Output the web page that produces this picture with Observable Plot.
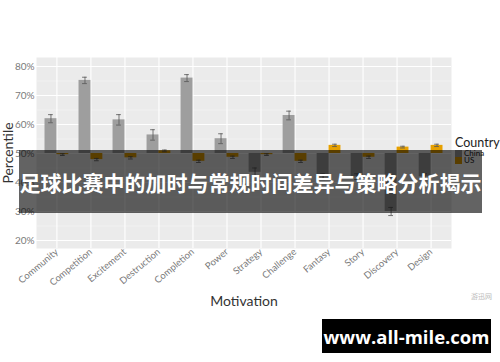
<!DOCTYPE html>
<html>
<head>
<meta charset="utf-8">
<script src="https://cdn.jsdelivr.net/npm/d3@7"></script>
<script src="https://cdn.jsdelivr.net/npm/@observablehq/plot@0.6"></script>
<style>
  html, body { margin: 0; padding: 0; background: #fff; }
  #wrap { position: relative; width: 500px; height: 362px; overflow: hidden; font-family: Lato, sans-serif; }
  #legend { position: absolute; left: 455px; top: 136px; color: #222; }
  #legend .title { font-size: 12.5px; line-height: 14px; }
  #legend .item { font-size: 8px; line-height: 7px; display: flex; align-items: center; }
  #legend .sw { width: 7px; height: 7px; margin-right: 2px; }
  #banner { position: absolute; left: 19px; top: 150px; width: 463px; height: 63px; background: rgba(0,0,0,0.61);
            color: #fff; font-family: "Noto Sans CJK SC", sans-serif; font-weight: 700; font-size: 21px;
            display: flex; align-items: center; justify-content: center; white-space: nowrap; letter-spacing: 0; }
  #site { position: absolute; left: 322px; top: 319px; width: 169px; height: 34px; background: #000; color: #fff;
          font-family: "Open Sans", sans-serif; font-weight: 700; font-size: 18.5px; display: flex; align-items: center; justify-content: center; }
  #mark { position: absolute; left: 471px; top: 291px; font-size: 7px; color: #bbb; font-family: "Noto Sans CJK SC", sans-serif; }
</style>
</head>
<body>
<div id="wrap"></div>
<script>
const categories = ["Community","Competition","Excitement","Destruction","Completion","Power","Strategy","Challenge","Fantasy","Story","Discovery","Design"];
const chinaValues = [62, 75.2, 61.6, 56.4, 76, 55.1, 43.5, 63.1, 42, 42, 30, 42];
const chinaErrors = [1.4, 1.1, 1.8, 1.8, 1.2, 1.7, 1.5, 1.5, 1.0, 1.0, 1.4, 1.0];
const usValues = [49.6, 47.9, 48.5, 50.9, 47.3, 48.7, 49.6, 47.3, 52.8, 48.7, 52.2, 52.8];
const usErrors = [0.3, 0.4, 0.4, 0.3, 0.4, 0.4, 0.3, 0.4, 0.4, 0.4, 0.3, 0.4];
const countries = ["China", "US"];
const countryColors = ["#9e9e9e", "#e6a000"];
const yMajor = [20, 30, 40, 50, 60, 70, 80];
const yMinor = [25, 35, 45, 55, 65, 75];
const baseline = 50;

const idx = categories.map((d, i) => i);
const rows = [];
categories.forEach((c, i) => {
  rows.push({i, country: "China", v: chinaValues[i], e: chinaErrors[i], off: -0.35});
  rows.push({i, country: "US", v: usValues[i], e: usErrors[i], off: 0});
});
const bw = 0.35;

const chart = Plot.plot({
  width: 500,
  height: 362,
  marginLeft: 36,
  marginRight: 49,
  marginTop: 57,
  marginBottom: 114,
  style: {fontFamily: "Lato, sans-serif", background: "transparent"},
  x: {domain: [-0.6, 11.6], axis: null},
  y: {domain: [17.24, 83.1], axis: null},
  color: {domain: countries, range: countryColors},
  marks: [
    Plot.frame({fill: "#ebebeb", stroke: null}),
    Plot.ruleY(yMinor, {stroke: "#f7f7f7", strokeWidth: 0.6}),
    Plot.ruleY(yMajor, {stroke: "#ffffff", strokeWidth: 1.1}),
    Plot.ruleX(idx, {stroke: "#ffffff", strokeWidth: 1.1}),
    Plot.rect(rows, {x1: d => d.i + d.off, x2: d => d.i + d.off + bw, y1: baseline, y2: "v", fill: "country"}),
    Plot.ruleX(rows, {x: d => d.i + d.off + bw / 2, y1: d => d.v - d.e, y2: d => d.v + d.e, stroke: "#555", strokeWidth: 0.8}),
    Plot.ruleY(rows, {x1: d => d.i + d.off + bw / 2 - 0.07, x2: d => d.i + d.off + bw / 2 + 0.07, y: d => d.v - d.e, stroke: "#555", strokeWidth: 0.8}),
    Plot.ruleY(rows, {x1: d => d.i + d.off + bw / 2 - 0.07, x2: d => d.i + d.off + bw / 2 + 0.07, y: d => d.v + d.e, stroke: "#555", strokeWidth: 0.8}),
    Plot.axisY(yMajor, {tickFormat: d => d + "%", tickSize: 0, tickPadding: 2, fontSize: 10, color: "#7a7a7a", label: null}),
    Plot.axisX(idx, {tickFormat: i => categories[i], tickRotate: -40, tickSize: 0, tickPadding: 2, fontSize: 9.5, color: "#7a7a7a", label: null}),
    Plot.text(["Motivation"], {frameAnchor: "bottom", dy: 57, lineAnchor: "bottom", fontSize: 14, fill: "#333"}),
    Plot.text(["Percentile"], {frameAnchor: "left", dx: -28, rotate: -90, textAnchor: "middle", fontSize: 14, fill: "#333"})
  ]
});

const wrap = document.getElementById("wrap");
wrap.appendChild(chart);

const legend = document.createElement("div");
legend.id = "legend";
legend.innerHTML = `<div class="title">Country</div>` +
  countries.map((c, k) => `<div class="item"><span class="sw" style="background:${countryColors[k]}"></span>${c}</div>`).join("");
wrap.appendChild(legend);

const banner = document.createElement("div");
banner.id = "banner";
banner.textContent = "足球比赛中的加时与常规时间差异与策略分析揭示";
wrap.appendChild(banner);

const mark = document.createElement("div");
mark.id = "mark";
mark.textContent = "游迅网";
wrap.appendChild(mark);

const site = document.createElement("div");
site.id = "site";
site.textContent = "www.all-mile.com";
wrap.appendChild(site);
</script>
</body>
</html>
